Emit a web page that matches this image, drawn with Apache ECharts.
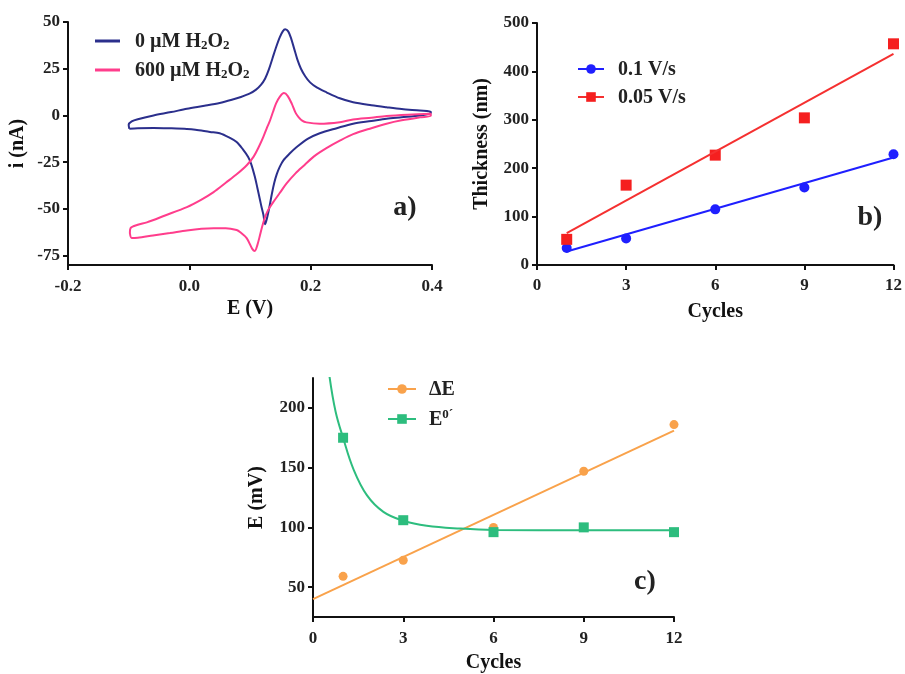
<!DOCTYPE html>
<html>
<head>
<meta charset="utf-8">
<script src="https://cdn.jsdelivr.net/npm/echarts@6/dist/echarts.min.js"></script>
<style>
html, body { margin: 0; padding: 0; background: #fff; }
#main { width: 905px; height: 674px; }
</style>
</head>
<body>
<div id="main"></div>
<script>
// a) cyclic voltammograms, [E (V), i (nA)], one closed loop each
var blankCV = [
    [-0.099,-7.1],[-0.100,-5.0],[-0.095,-3.2],[-0.085,-2.0],[-0.059,0],[-0.030,1.8],[-0.004,3.6],
    [0.025,5.2],[0.050,6.7],[0.070,8.4],[0.085,9.9],[0.100,11.8],[0.110,13.8],[0.118,16.3],
    [0.125,19.8],[0.131,24.5],[0.137,30.5],[0.143,36.5],[0.149,41.8],[0.154,45],[0.158,46.1],
    [0.163,45],[0.168,41],[0.173,35.5],[0.178,30],[0.184,25],[0.191,21],[0.199,17.7],
    [0.210,15],[0.226,12.4],[0.248,9.2],[0.270,7.1],[0.300,5.5],[0.325,4.4],[0.350,3.4],
    [0.380,2.6],[0.398,2.0],
    [0.398,1.2],[0.380,0],[0.350,-1.0],[0.325,-1.8],[0.300,-3.0],[0.270,-4.4],[0.243,-6.8],
    [0.215,-9.5],[0.195,-12.5],[0.177,-16.9],[0.165,-20.5],[0.155,-24],[0.149,-27.5],
    [0.144,-31.5],[0.140,-36],[0.136,-42],[0.132,-49],[0.128,-55],[0.125,-58.2],[0.122,-53],
    [0.119,-49],[0.1165,-45.2],[0.112,-38.5],[0.108,-32.8],[0.102,-26],[0.097,-22.2],
    [0.088,-18],[0.078,-14.2],[0.067,-12],[0.050,-9.5],[0.034,-8.8],[0.010,-7.6],[-0.004,-7.2],
    [-0.030,-6.9],[-0.059,-6.7],[-0.085,-6.8],[-0.099,-7.1]
];
var peroxideCV = [
    [-0.098,-63],[-0.097,-60.3],[-0.085,-58.5],[-0.070,-57.2],[-0.040,-53.5],[-0.004,-49],
    [0.020,-45],[0.040,-41],[0.060,-36],[0.078,-31.5],[0.095,-26.5],[0.106,-22],[0.115,-16.5],
    [0.122,-11.5],[0.128,-6.5],[0.133,-2.7],[0.138,2],[0.143,6.5],[0.149,10],[0.156,12],
    [0.162,10.5],[0.169,6.2],[0.175,1.5],[0.180,-0.9],[0.186,-2.8],[0.193,-3.7],[0.215,-4.4],
    [0.248,-3.6],[0.270,-2.2],[0.300,-1.2],[0.325,-0.3],[0.360,0.4],[0.398,0.9],
    [0.398,-0.2],[0.380,-1.0],[0.350,-2.6],[0.325,-4.4],[0.300,-6.8],[0.270,-10],[0.248,-13.5],
    [0.226,-17.5],[0.205,-22],[0.190,-26.5],[0.175,-31],[0.160,-36.5],[0.149,-41.5],
    [0.138,-46.5],[0.130,-50.5],[0.1247,-54.5],[0.120,-59.5],[0.1165,-64],[0.112,-69.5],
    [0.108,-72.5],[0.104,-71.5],[0.0945,-65.6],[0.084,-62.5],[0.078,-61.3],[0.060,-60.3],
    [0.040,-60.3],[0.020,-60.6],[-0.004,-61.5],[-0.032,-62.9],[-0.060,-64.2],[-0.085,-65.4],
    [-0.095,-65.6],[-0.098,-63]
];
var cvTicksY = [50, 25, 0, -25, -50, -75];

// b) film thickness vs cycles
var cycles = [1, 3, 6, 9, 12];
var thickFast = [35, 55, 115, 160, 229];
var thickSlow = [53, 165, 227, 304, 457];
var fitFast = [[1, 28], [12, 222]];
var fitSlow = [[1, 66], [12, 436]];

// c) peak separation and formal potential vs cycles
var deltaE = [59, 72.5, 100, 147, 186];
var formalE = [175, 106, 96, 100, 96];
var fitDeltaE = [[0, 40], [12, 181]];
var curveFormalE = [[0.55,226],[0.75,197],[1.0,175],[1.34,149],[1.79,127],[2.34,113],
    [3.0,105.6],[3.78,101.4],[4.89,99],[6,97.8],[9,97.5],[12,97.5]];
var mvTicksY = [50, 100, 150, 200];

var FONT = '"Liberation Serif", "Times New Roman", serif';
var INK = '#111';

function pairs(xs, ys) {
    return xs.map(function (x, k) { return [x, ys[k]]; });
}

function valueAxis(o) {
    var ax = {
        type: 'value',
        nameLocation: 'middle',
        nameTextStyle: { fontFamily: FONT, fontWeight: 'bold', fontSize: 20, color: INK },
        axisLine: { onZero: false, lineStyle: { color: INK, width: 2 } },
        axisTick: { length: 5, lineStyle: { color: INK, width: 2 } },
        axisLabel: { fontFamily: FONT, fontWeight: 'bold', fontSize: 17, color: '#222', margin: 8 },
        splitLine: { show: false }
    };
    for (var k in o) {
        if (k === 'axisLabel' || k === 'axisTick') {
            for (var j in o[k]) ax[k][j] = o[k][j];
        } else {
            ax[k] = o[k];
        }
    }
    return ax;
}

var richText = {
    t: { fontFamily: FONT, fontWeight: 'bold', fontSize: 20, color: '#222', verticalAlign: 'bottom', lineHeight: 22 },
    s: { fontFamily: FONT, fontWeight: 'bold', fontSize: 13, color: '#222', verticalAlign: 'bottom', lineHeight: 8 },
    p: { fontFamily: FONT, fontWeight: 'bold', fontSize: 13, color: '#222', verticalAlign: 'top', lineHeight: 10 }
};

var legendLabels = {
    '0 µM H2O2': '{t|0 µM H}{s|2}{t|O}{s|2}',
    '600 µM H2O2': '{t|600 µM H}{s|2}{t|O}{s|2}',
    '0.1 V/s': '{t|0.1 V/s}',
    '0.05 V/s': '{t|0.05 V/s}',
    'ΔE': '{t|ΔE}',
    "E0'": '{t|E}{p|0´}'
};

function legendBox(names, left, top, w, h, gap, pad, icon) {
    return {
        orient: 'vertical',
        left: left,
        top: top,
        padding: 0,
        itemWidth: w,
        itemHeight: h,
        itemGap: gap,
        selectedMode: false,
        data: names.map(function (n) { return icon ? { name: n, icon: icon } : { name: n }; }),
        formatter: function (n) { return legendLabels[n]; },
        textStyle: { padding: [0, 0, 0, pad], rich: richText }
    };
}

var mychart = echarts.init(document.getElementById('main'), null, { renderer: 'canvas' });

option = {
    backgroundColor: '#ffffff',
    animation: false,
    grid: [
        { left: 68, top: 22, width: 364, height: 243 },
        { left: 537, top: 23, width: 361, height: 242 },
        { left: 313, top: 378, width: 361, height: 241 }
    ],
    xAxis: [
        valueAxis({ gridIndex: 0, min: -0.2, max: 0.4, interval: 0.2, name: 'E (V)', nameGap: 34,
            axisLabel: { margin: 13, formatter: function (v) { return v.toFixed(1); } } }),
        valueAxis({ gridIndex: 1, min: 0, max: 12, interval: 3, name: 'Cycles', nameGap: 37,
            axisLabel: { margin: 12 } }),
        valueAxis({ gridIndex: 2, min: 0, max: 12, interval: 3, name: 'Cycles', nameGap: 36,
            axisLabel: { margin: 13 } })
    ],
    yAxis: [
        valueAxis({ gridIndex: 0, min: -80, max: 50, name: 'i (nA)', nameGap: 40,
            axisTick: { customValues: cvTicksY }, axisLabel: { customValues: cvTicksY } }),
        valueAxis({ gridIndex: 1, min: 0, max: 500, interval: 100, name: 'Thickness (nm)', nameGap: 45 }),
        valueAxis({ gridIndex: 2, min: 25, max: 225, name: 'E (mV)', nameGap: 46,
            axisTick: { customValues: mvTicksY }, axisLabel: { customValues: mvTicksY } })
    ],
    legend: [
        legendBox(['0 µM H2O2', '600 µM H2O2'], 95, 32, 25, 3, 9, 10, 'rect'),
        legendBox(['0.1 V/s', '0.05 V/s'], 577, 60, 26, 12, 8, 9),
        legendBox(['ΔE', "E0'"], 387, 380, 28, 12, 8, 8)
    ],
    graphic: [
        { type: 'text', x: 405, y: 208, style: { text: 'a)', font: 'bold 28px ' + FONT, fill: '#222', align: 'center', verticalAlign: 'middle' } },
        { type: 'text', x: 870, y: 218, style: { text: 'b)', font: 'bold 28px ' + FONT, fill: '#222', align: 'center', verticalAlign: 'middle' } },
        { type: 'text', x: 645, y: 582, style: { text: 'c)', font: 'bold 28px ' + FONT, fill: '#222', align: 'center', verticalAlign: 'middle' } }
    ],
    series: [
        {
            name: '0 µM H2O2', type: 'line', xAxisIndex: 0, yAxisIndex: 0,
            data: blankCV, symbol: 'none', smooth: 0.3,
            itemStyle: { color: '#2b2f8c' }, lineStyle: { color: '#2b2f8c', width: 2 }
        },
        {
            name: '600 µM H2O2', type: 'line', xAxisIndex: 0, yAxisIndex: 0,
            data: peroxideCV, symbol: 'none', smooth: 0.3,
            itemStyle: { color: '#ff3d8c' }, lineStyle: { color: '#ff3d8c', width: 2 }
        },
        {
            name: '0.1 V/s', type: 'line', xAxisIndex: 1, yAxisIndex: 1,
            data: fitFast, symbol: 'circle', showSymbol: false,
            itemStyle: { color: '#1f1fff' }, lineStyle: { color: '#1f1fff', width: 2 }
        },
        {
            name: '0.05 V/s', type: 'line', xAxisIndex: 1, yAxisIndex: 1,
            data: fitSlow, symbol: 'rect', showSymbol: false,
            itemStyle: { color: '#f51f1f' }, lineStyle: { color: '#f53030', width: 2 }
        },
        {
            name: 'pts fast', type: 'scatter', xAxisIndex: 1, yAxisIndex: 1,
            data: pairs(cycles, thickFast), symbol: 'circle', symbolSize: 10,
            itemStyle: { color: '#1f1fff', opacity: 1 }
        },
        {
            name: 'pts slow', type: 'scatter', xAxisIndex: 1, yAxisIndex: 1,
            data: pairs(cycles, thickSlow), symbol: 'rect', symbolSize: 11,
            itemStyle: { color: '#f51f1f', opacity: 1 }
        },
        {
            name: 'ΔE', type: 'line', xAxisIndex: 2, yAxisIndex: 2,
            data: fitDeltaE, symbol: 'circle', showSymbol: false,
            itemStyle: { color: '#f9a24b' }, lineStyle: { color: '#f9a24b', width: 2 }
        },
        {
            name: "E0'", type: 'line', xAxisIndex: 2, yAxisIndex: 2,
            data: curveFormalE, symbol: 'rect', showSymbol: false, smooth: 0.4,
            itemStyle: { color: '#2dbd7e' }, lineStyle: { color: '#2dbd7e', width: 2 }
        },
        {
            name: 'pts dE', type: 'scatter', xAxisIndex: 2, yAxisIndex: 2,
            data: pairs(cycles, deltaE), symbol: 'circle', symbolSize: 9,
            itemStyle: { color: '#f9a24b', opacity: 1 }
        },
        {
            name: 'pts E0', type: 'scatter', xAxisIndex: 2, yAxisIndex: 2,
            data: pairs(cycles, formalE), symbol: 'rect', symbolSize: 10,
            itemStyle: { color: '#2dbd7e', opacity: 1 }
        }
    ]
};
mychart.setOption(option, true);
</script>
</body>
</html>
